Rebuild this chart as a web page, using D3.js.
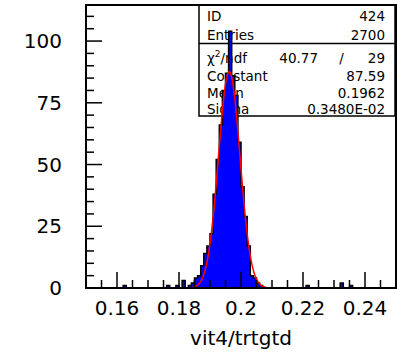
<!DOCTYPE html>
<html>
<head>
<meta charset="utf-8">
<script src="https://cdn.jsdelivr.net/npm/d3@7"></script>
<style>
  body { margin: 0; background: #fff; }
  svg text { font-family: "DejaVu Sans", sans-serif; fill: #000; }
</style>
</head>
<body>
<svg id="chart"></svg>
<script>
// histogram: 100 bins of width 0.001 from 0.15 to 0.25
const binStart = 0.15;
const binWidth = 0.001;
const counts = [
  0, 0, 0, 0, 0, 0, 0, 0, 0, 0,
  0, 0, 1, 0, 0, 0, 0, 0, 0, 0,
  0, 0, 0, 0, 0, 0, 1, 0, 0, 1,
  0, 3, 0, 1, 2, 4, 5, 9, 14, 17,
  22, 38, 52, 66, 80, 87, 104, 86, 78, 59,
  41, 29, 17, 5, 4, 2, 1, 0, 0, 0,
  0, 0, 0, 0, 0, 0, 0, 0, 0, 0,
  0, 1, 0, 0, 0, 0, 0, 0, 0, 0,
  0, 0, 2, 0, 0, 1, 0, 0, 0, 0,
  0, 0, 0, 0, 0, 0, 0, 0, 0, 0
];

const xTicks = [0.16, 0.18, 0.2, 0.22, 0.24];
const xTickLabels = ["0.16", "0.18", "0.2", "0.22", "0.24"];
const yTicks = [0, 25, 50, 75, 100];

// stats box
const statsTop = [["ID", "424"], ["Entries", "2700"]];
const fitChi2 = "40.77", fitNdf = "29";
const fitNames = ["Constant", "Mean", "Sigma"];
const fitValues = ["87.59", "0.1962", "0.3480E-02"];
const fitConstant = 87.59, fitMean = 0.1962, fitSigma = 0.003480;

const W = 397, H = 355;
const margin = { left: 86, right: 1, top: 5, bottom: 67 };
const x0 = margin.left, x1 = W - margin.right;
const y0 = margin.top, y1 = H - margin.bottom;

const svg = d3.select("#chart").attr("width", W).attr("height", H);

const xScale = d3.scaleLinear().domain([0.15, 0.25]).range([x0, x1]);
const yScale = d3.scaleLinear().domain([0, 114.6]).range([y1, y0]);

svg.append("clipPath").attr("id", "frameClip")
  .append("rect").attr("x", x0).attr("y", y0).attr("width", x1 - x0).attr("height", y1 - y0);

// stats box (drawn first, the histogram goes over it)
const box = svg.append("g");
const bx0 = 199, bx1 = x1 - 1, by0 = y0, by1 = 116, bsep = 43.5;
box.append("rect").attr("x", bx0).attr("y", by0).attr("width", bx1 - bx0).attr("height", by1 - by0)
  .attr("fill", "#fff").attr("stroke", "#000").attr("stroke-width", 1.5);
box.append("line").attr("x1", bx0).attr("x2", bx1).attr("y1", bsep).attr("y2", bsep)
  .attr("stroke", "#000").attr("stroke-width", 1.5);

const tx = 207, vx = 385, fs = 13.5;
const rowsTop = [20.5, 39.5];
statsTop.forEach((r, i) => {
  box.append("text").attr("x", tx).attr("y", rowsTop[i]).attr("font-size", fs).text(r[0]);
  box.append("text").attr("x", vx).attr("y", rowsTop[i]).attr("font-size", fs)
    .attr("text-anchor", "end").text(r[1]);
});
const chiRow = 62.5;
const chi = box.append("text").attr("x", tx).attr("y", chiRow).attr("font-size", fs);
chi.append("tspan").text("\u03c7");
chi.append("tspan").attr("dy", -6).attr("font-size", 9).text("2");
chi.append("tspan").attr("dy", 6).text("/ndf");
box.append("text").attr("x", 318).attr("y", chiRow).attr("font-size", fs).attr("text-anchor", "end").text(fitChi2);
box.append("text").attr("x", 341.5).attr("y", chiRow).attr("font-size", fs).attr("text-anchor", "middle").text("/");
box.append("text").attr("x", vx).attr("y", chiRow).attr("font-size", fs).attr("text-anchor", "end").text(fitNdf);
const fitRows = [80.5, 97.5, 114];
fitNames.forEach((n, i) => {
  box.append("text").attr("x", tx).attr("y", fitRows[i]).attr("font-size", fs).text(n);
  box.append("text").attr("x", vx).attr("y", fitRows[i]).attr("font-size", fs)
    .attr("text-anchor", "end").text(fitValues[i]);
});

// histogram
const pts = counts.map((c, i) => [binStart + i * binWidth, c]);
pts.push([binStart + counts.length * binWidth, counts[counts.length - 1]]);

const plot = svg.append("g").attr("clip-path", "url(#frameClip)");
plot.append("path").datum(pts)
  .attr("d", d3.area().curve(d3.curveStepAfter)
    .x(d => xScale(d[0])).y0(yScale(0)).y1(d => yScale(d[1])))
  .attr("fill", "#0000ff");
plot.append("path").datum(pts)
  .attr("d", d3.line().curve(d3.curveStepAfter)
    .x(d => xScale(d[0])).y(d => yScale(d[1])))
  .attr("fill", "none").attr("stroke", "#000").attr("stroke-width", 1.5);

// gaussian fit
const fx = d3.range(0.15, 0.25 + 1e-9, 0.0002);
const gauss = v => fitConstant * Math.exp(-0.5 * Math.pow((v - fitMean) / fitSigma, 2));
plot.append("path").datum(fx)
  .attr("d", d3.line().x(d => xScale(d)).y(d => yScale(gauss(d))))
  .attr("fill", "none").attr("stroke", "#ff0000").attr("stroke-width", 1.5);

// frame
svg.append("rect").attr("x", x0).attr("y", y0).attr("width", x1 - x0).attr("height", y1 - y0)
  .attr("fill", "none").attr("stroke", "#000").attr("stroke-width", 2);

// ticks drawn inward like ROOT
const xMinor = d3.range(0.155, 0.25, 0.005);
svg.append("g").selectAll("line").data(xMinor).join("line")
  .attr("x1", d => xScale(d)).attr("x2", d => xScale(d))
  .attr("y1", y1).attr("y2", d => xTicks.some(t => Math.abs(t - d) < 1e-6) ? y1 - 16 : y1 - 8)
  .attr("stroke", "#000").attr("stroke-width", 1.5);

const yMinor = d3.range(5, 115, 5);
svg.append("g").selectAll("line").data(yMinor).join("line")
  .attr("y1", d => yScale(d)).attr("y2", d => yScale(d))
  .attr("x1", x0).attr("x2", d => d % 25 === 0 ? x0 + 16 : x0 + 8)
  .attr("stroke", "#000").attr("stroke-width", 1.5);

svg.append("g").selectAll("text").data(xTicks).join("text")
  .attr("x", d => xScale(d)).attr("y", 315).attr("text-anchor", "middle")
  .attr("font-size", 20).text((d, i) => xTickLabels[i]);

svg.append("g").selectAll("text").data(yTicks).join("text")
  .attr("x", 62).attr("y", d => yScale(d)).attr("dy", "0.36em").attr("text-anchor", "end")
  .attr("font-size", 20).text(d => d);

svg.append("text").attr("x", (x0 + x1) / 2).attr("y", 345).attr("text-anchor", "middle")
  .attr("font-size", 20).text("vit4/trtgtd");
</script>
</body>
</html>
